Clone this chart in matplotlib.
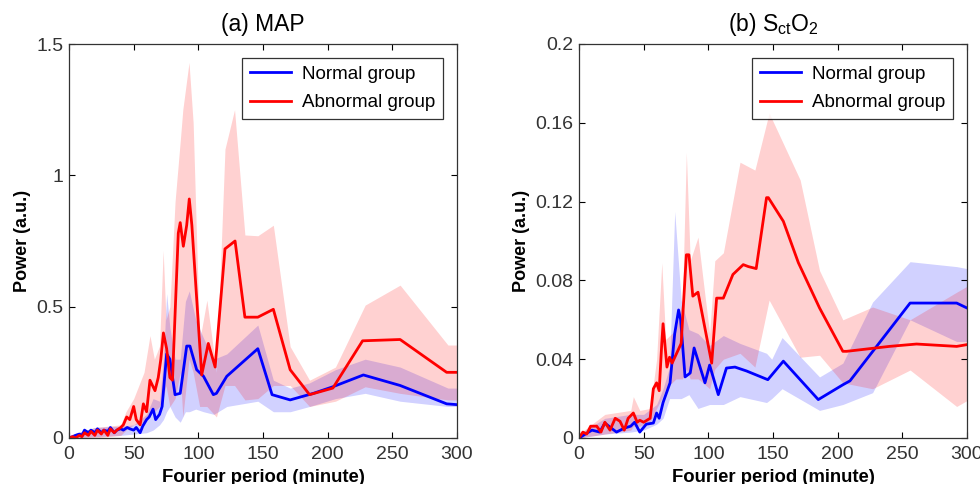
import matplotlib
matplotlib.use('Agg')
import matplotlib.pyplot as plt

plt.rcParams['font.family'] = ['Liberation Sans', 'DejaVu Sans']

BLUE = (0, 0, 1)
RED = (1, 0, 0)

# ---- (a) MAP ----
map_norm_x = [0, 3, 5, 8, 10, 12, 15, 17, 20, 22, 25, 27, 30, 32, 35, 37, 40, 42, 45, 47,
              50, 52, 55, 57, 60, 62, 65, 67, 70, 72, 75.5, 78, 82, 86, 91, 93.5, 98.7,
              104, 111.6, 114, 122, 146, 157, 171, 189, 204, 227.6, 256, 292, 300]
map_norm_y = [0, 0.005, 0.01, 0.015, 0.01, 0.03, 0.02, 0.03, 0.02, 0.035, 0.02, 0.03, 0.025,
              0.04, 0.02, 0.03, 0.035, 0.03, 0.04, 0.035, 0.03, 0.04, 0.02, 0.045, 0.07, 0.08,
              0.11, 0.07, 0.09, 0.12, 0.32, 0.30, 0.165, 0.17, 0.35, 0.35, 0.26, 0.235,
              0.165, 0.17, 0.235, 0.34, 0.165, 0.145, 0.17, 0.195, 0.24, 0.20, 0.13, 0.127]
map_norm_bx = [0, 20, 40, 50, 60, 65, 70, 73, 75.5, 78, 82, 86, 90, 93, 98, 104, 112,
               122, 146, 158, 171, 186, 206, 229, 256, 293, 300]
map_norm_lo = [0, 0.005, 0.01, 0.015, 0.02, 0.03, 0.05, 0.07, 0.1, 0.12, 0.08, 0.06, 0.1,
               0.1, 0.11, 0.1, 0.09, 0.12, 0.14, 0.1, 0.1, 0.12, 0.15, 0.17, 0.14, 0.12, 0.12]
map_norm_hi = [0.01, 0.04, 0.045, 0.05, 0.09, 0.15, 0.14, 0.3, 0.55, 0.42, 0.3, 0.3, 0.52,
               0.56, 0.45, 0.38, 0.3, 0.32, 0.43, 0.22, 0.19, 0.21, 0.26, 0.30, 0.27, 0.19, 0.19]

map_abn_x = [0, 3, 5, 8, 10, 12, 15, 17, 20, 22, 25, 27, 30, 32, 35, 37, 40, 42, 44.6, 47,
             50, 52, 55, 57.5, 60, 62.6, 66.5, 69, 71, 73, 75.5, 78, 80, 84.5, 86, 88.4, 91,
             93, 95, 102.6, 107.7, 113, 120.6, 128.4, 136, 146, 158, 171, 186, 204, 227,
             256, 292, 300]
map_abn_y = [0, 0.005, 0.0, 0.01, 0.005, 0.02, 0.01, 0.025, 0.01, 0.03, 0.015, 0.03, 0.01,
             0.035, 0.02, 0.03, 0.04, 0.05, 0.08, 0.07, 0.12, 0.07, 0.05, 0.13, 0.1, 0.22,
             0.18, 0.23, 0.3, 0.40, 0.34, 0.23, 0.22, 0.78, 0.82, 0.73, 0.81, 0.91, 0.81,
             0.24, 0.36, 0.27, 0.72, 0.75, 0.46, 0.46, 0.49, 0.26, 0.165, 0.19, 0.37,
             0.375, 0.25, 0.25]
map_abn_bx = [0, 20, 40, 44, 50, 58, 62.6, 66, 70, 72.8, 75, 78, 82, 86, 88, 92.8, 96, 101,
              106.6, 114, 120.6, 128, 136, 146, 158, 171, 186, 206, 229, 256, 293, 300]
map_abn_lo = [0, 0.0, 0.01, 0.03, 0.05, 0.06, 0.1, 0.1, 0.12, 0.15, 0.2, 0.12, 0.15, 0.25,
              0.08, 0.3, 0.25, 0.12, 0.12, 0.08, 0.2, 0.2, 0.145, 0.15, 0.2, 0.2, 0.12,
              0.14, 0.195, 0.17, 0.145, 0.145]
map_abn_hi = [0.01, 0.04, 0.05, 0.1, 0.15, 0.25, 0.39, 0.3, 0.35, 0.715, 0.45, 0.5, 0.9,
              1.13, 1.25, 1.43, 1.2, 0.37, 0.525, 0.25, 1.1, 1.25, 0.773, 0.77, 0.81, 0.348,
              0.22, 0.27, 0.506, 0.582, 0.354, 0.354]

# ---- (b) SctO2 ----
sct_norm_x = [0, 5, 10, 16, 20, 25, 29, 35, 40, 43, 47, 52, 57.5, 60, 62, 65, 70.4, 74, 77,
              78.6, 82, 86, 89, 97.4, 101, 107.7, 114, 120.6, 129.6, 146, 158, 185, 204,
              209.5, 256, 292, 300]
sct_norm_y = [0, 0.002, 0.004, 0.003, 0.0076, 0.005, 0.003, 0.005, 0.006, 0.008, 0.003,
              0.007, 0.0076, 0.0127, 0.01, 0.018, 0.028, 0.053, 0.065, 0.06, 0.031, 0.033,
              0.0457, 0.028, 0.037, 0.022, 0.0355, 0.036, 0.034, 0.0296, 0.039, 0.0195,
              0.027, 0.029, 0.0685, 0.0685, 0.066]
sct_norm_bx = [0, 20, 40, 50, 60, 65, 70, 74, 79, 85, 92, 101, 111.6, 124.5, 145, 149, 157,
               186, 204, 227, 256, 292, 300]
sct_norm_lo = [0, 0.002, 0.003, 0.004, 0.007, 0.01, 0.02, 0.02, 0.02, 0.022, 0.015, 0.017,
               0.017, 0.021, 0.018, 0.02, 0.025, 0.014, 0.017, 0.023, 0.06, 0.049, 0.049]
sct_norm_hi = [0.002, 0.01, 0.012, 0.012, 0.017, 0.025, 0.036, 0.115, 0.07, 0.055, 0.053,
               0.047, 0.052, 0.048, 0.043, 0.04, 0.051, 0.031, 0.038, 0.069, 0.0895, 0.087,
               0.086]

sct_abn_x = [0, 3, 6, 9, 13.7, 17, 20, 24, 28, 31.7, 35, 38, 42, 45, 47, 50, 55, 57.5, 60,
             62, 64, 65, 68, 70, 72, 75.5, 79, 83, 85, 88, 92, 102.6, 106.4, 111.6, 119,
             127, 131, 137, 145, 146.4, 158, 169.6, 186, 204, 207, 240, 261, 292, 300]
sct_abn_y = [0, 0.003, 0.002, 0.006, 0.006, 0.003, 0.008, 0.004, 0.01, 0.0085, 0.004, 0.01,
             0.0127, 0.008, 0.009, 0.008, 0.01, 0.025, 0.028, 0.024, 0.048, 0.058, 0.036,
             0.041, 0.038, 0.043, 0.048, 0.093, 0.093, 0.072, 0.074, 0.038, 0.071, 0.071,
             0.083, 0.088, 0.087, 0.086, 0.122, 0.122, 0.11, 0.089, 0.066, 0.044, 0.044,
             0.0465, 0.0477, 0.0465, 0.0474]
sct_abn_bx = [0, 20, 40, 42, 47, 55, 60, 64, 67, 75, 80, 83, 86, 92, 96, 101, 105, 111.6,
              124.5, 136, 147, 171, 186, 204, 227, 256, 292, 300]
sct_abn_lo = [0, 0.002, 0.004, 0.006, 0.006, 0.008, 0.015, 0.02, 0.025, 0.03, 0.03, 0.035,
              0.03, 0.03, 0.028, 0.025, 0.035, 0.04, 0.043, 0.036, 0.07, 0.041, 0.042,
              0.028, 0.025, 0.0345, 0.016, 0.019]
sct_abn_hi = [0.002, 0.012, 0.014, 0.021, 0.014, 0.015, 0.04, 0.089, 0.05, 0.055, 0.07,
              0.145, 0.09, 0.102, 0.08, 0.053, 0.09, 0.094, 0.14, 0.136, 0.165, 0.131, 0.085,
              0.06, 0.0665, 0.06, 0.074, 0.077]


def draw_panel(ax, title, panels, ylim, yticks, yticklabels):
    for bx, lo, hi, color in [(p[2], p[3], p[4], p[5]) for p in panels]:
        ax.fill_between(bx, lo, hi, color=color, alpha=0.18, linewidth=0)
    for x, y, _, _, _, color, label in panels:
        ax.plot(x, y, color=color, linewidth=2, label=label)
    ax.set_xlim(0, 300)
    ax.set_ylim(*ylim)
    ax.set_xticks([0, 50, 100, 150, 200, 250, 300])
    ax.set_xticklabels(['0', '50', '100', '150', '200', '250', '300'])
    ax.set_yticks(yticks)
    ax.set_yticklabels(yticklabels)
    ax.tick_params(direction='in', top=True, right=True, length=4, labelsize=14,
                   labelcolor='#333333')
    ax.tick_params(axis='x', pad=6)
    ax.tick_params(axis='y', pad=4)
    ax.set_xlabel('Fourier period (minute)', fontsize=13.3, fontweight='bold', labelpad=4)
    ax.set_ylabel('Power (a.u.)', fontsize=13, fontweight='bold', labelpad=4)
    ax.set_title(title, fontsize=16.5, pad=9)
    for s in ax.spines.values():
        s.set_linewidth(0.9)
        s.set_color('#333333')
    leg = ax.legend(loc='upper right', fontsize=13.5, fancybox=False, edgecolor='black',
                    handlelength=2.2, borderaxespad=0.75, borderpad=0.4, labelspacing=0.6,
                    handletextpad=0.6)
    leg.get_frame().set_linewidth(0.9)


fig = plt.figure(figsize=(9.8, 4.84), dpi=100)
ax_a = fig.add_axes([69 / 980, 46 / 484, 388 / 980, 394 / 484])
ax_b = fig.add_axes([579 / 980, 46 / 484, 388 / 980, 394 / 484])

draw_panel(ax_a, '(a) MAP',
           [(map_norm_x, map_norm_y, map_norm_bx, map_norm_lo, map_norm_hi, BLUE, 'Normal group'),
            (map_abn_x, map_abn_y, map_abn_bx, map_abn_lo, map_abn_hi, RED, 'Abnormal group')],
           (0, 1.5), [0, 0.5, 1, 1.5], ['0', '0.5', '1', '1.5'])

draw_panel(ax_b, r'(b) S$_{\mathregular{ct}}$O$_{\mathregular{2}}$',
           [(sct_norm_x, sct_norm_y, sct_norm_bx, sct_norm_lo, sct_norm_hi, BLUE, 'Normal group'),
            (sct_abn_x, sct_abn_y, sct_abn_bx, sct_abn_lo, sct_abn_hi, RED, 'Abnormal group')],
           (0, 0.2), [0, 0.04, 0.08, 0.12, 0.16, 0.2],
           ['0', '0.04', '0.08', '0.12', '0.16', '0.2'])

fig.savefig('out.png', dpi=100)
